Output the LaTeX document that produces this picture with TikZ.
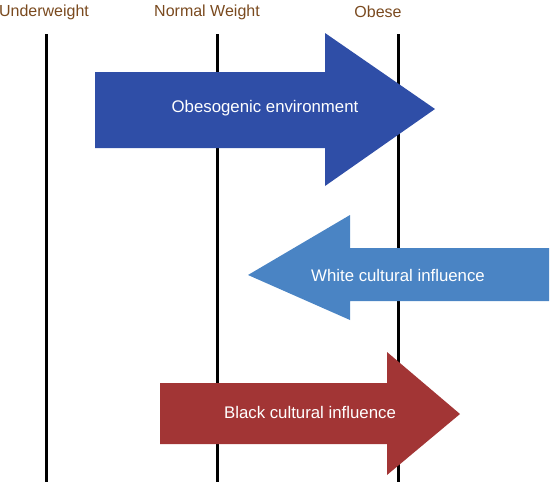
\documentclass[tikz,border=0pt]{standalone}
\usepackage{fontspec}
\setmainfont{Liberation Sans}
\definecolor{hdr}{HTML}{7A4A1F}
\definecolor{obblue}{HTML}{2F4EA7}
\definecolor{whblue}{HTML}{4A84C4}
\definecolor{bkred}{HTML}{A23535}
\tikzset{
  hdrlabel/.style={text=hdr, font=\fontsize{16}{18}\selectfont, inner sep=0pt, anchor=center},
  scaleline/.style={line width=3pt, black},
  arrowtext/.style={text=white, font=\fontsize{16.8}{19}\selectfont, inner sep=0pt, anchor=center},
}
\begin{document}
\begin{tikzpicture}[x=1pt,y=-1pt]
\useasboundingbox (0,0) rectangle (550,482);
% headers
\node[hdrlabel] (under) at (44,12) {Underweight};
\node[hdrlabel] (normal) at (207,12) {Normal Weight};
\node[hdrlabel] (obese) at (378,12) {Obese};
% vertical lines
\coordinate (l1b) at (46,482);
\coordinate (l2b) at (217,482);
\coordinate (l3b) at (398,482);
\coordinate (l1t) at (46,34);
\coordinate (l2t) at (217,34);
\coordinate (l3t) at (398,34);
\draw[scaleline] (l1t) -- (l1b);
\draw[scaleline] (l2t) -- (l2b);
\draw[scaleline] (l3t) -- (l3b);
% obesogenic arrow
\fill[obblue] (95,72) -- (325,72) -- (325,33) -- (435,109) -- (325,186) -- (325,148) -- (95,148) -- cycle;
\node[arrowtext] (obeso) at (265,108) {Obesogenic environment};
% white cultural arrow
\fill[whblue] (549,248) -- (350,248) -- (350,215) -- (248,275) -- (350,320) -- (350,301) -- (549,301) -- cycle;
\node[arrowtext] (white) at (398,275) {White cultural influence};
% black cultural arrow
\fill[bkred] (160,383) -- (387,383) -- (387,352) -- (460,414) -- (387,475) -- (387,444) -- (160,444) -- cycle;
\node[arrowtext] (black) at (310,412) {Black cultural influence};
\end{tikzpicture}
\end{document}
